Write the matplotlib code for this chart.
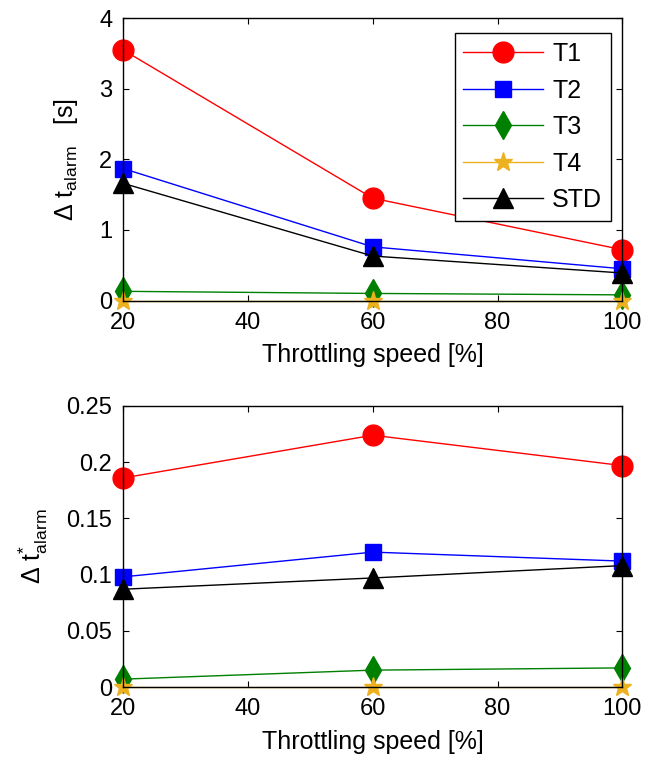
import matplotlib
matplotlib.use("Agg")
import matplotlib.pyplot as plt

plt.rcParams['font.family'] = ['Liberation Sans', 'DejaVu Sans']
plt.rcParams['mathtext.fontset'] = 'custom'
plt.rcParams['mathtext.rm'] = 'Liberation Sans'
plt.rcParams['mathtext.it'] = 'Liberation Sans'
plt.rcParams['mathtext.bf'] = 'Liberation Sans'

# ---- data ----
speed = [20, 60, 100]
series_names = ['T1', 'T2', 'T3', 'T4', 'STD']

dt_T1 = [3.55, 1.45, 0.72]
dt_T2 = [1.87, 0.76, 0.45]
dt_T3 = [0.13, 0.10, 0.08]
dt_T4 = [0.0, 0.0, 0.0]
dt_STD = [1.66, 0.63, 0.39]

dtn_T1 = [0.186, 0.224, 0.197]
dtn_T2 = [0.098, 0.120, 0.112]
dtn_T3 = [0.007, 0.015, 0.017]
dtn_T4 = [0.0, 0.0, 0.0]
dtn_STD = [0.087, 0.097, 0.108]

x_ticks = [20, 40, 60, 80, 100]
top_yticks = [0, 1, 2, 3, 4]
bot_yticks = [0, 0.05, 0.1, 0.15, 0.2, 0.25]
bot_yticklabels = ['0', '0.05', '0.1', '0.15', '0.2', '0.25']

colors = ['#ff0000', '#0000ff', '#008000', '#edb120', '#000000']
markers = ['o', 's', 'd', '*', '^']
msizes = [15, 12, 14, 14, 14]

W, H = 665, 759
fig = plt.figure(figsize=(W / 100, H / 100), dpi=100)

def px_axes(left, top, right, bottom):
    return fig.add_axes([left / W, 1 - bottom / H, (right - left) / W, (bottom - top) / H])

ax1 = px_axes(123.3, 18.3, 622.3, 300.5)
ax2 = px_axes(123.3, 406, 622.3, 687)

top_data = [dt_T1, dt_T2, dt_T3, dt_T4, dt_STD]
bot_data = [dtn_T1, dtn_T2, dtn_T3, dtn_T4, dtn_STD]

for ax, data in ((ax1, top_data), (ax2, bot_data)):
    for name, y, c, m, ms in zip(series_names, data, colors, markers, msizes):
        ax.plot(speed, y, color=c, marker=m, markersize=ms, markerfacecolor=c,
                markeredgecolor=c, linewidth=1.0, label=name, clip_on=False, zorder=3)
    ax.set_xlim(20, 100)
    ax.set_xticks(x_ticks)
    ax.tick_params(direction='in', length=4, width=0.8, labelsize=17, pad=8,
                   top=True, right=True)
    for s in ax.spines.values():
        s.set_linewidth(1.0)
        s.set_zorder(4)
    ax.set_xlabel('Throttling speed [%]', fontsize=18, labelpad=7)

ax1.set_ylim(0, 4)
ax1.set_yticks(top_yticks)
ax1.set_ylabel('Δ t$_{\\mathrm{alarm}}$   [s]', fontsize=18, labelpad=14)

ax2.set_ylim(0, 0.25)
ax2.set_yticks(bot_yticks)
ax2.set_yticklabels(bot_yticklabels)
ax2.set_ylabel('Δ t$^{*}_{\\mathrm{alarm}}$', fontsize=18, labelpad=12)

leg = ax1.legend(loc='upper right', bbox_to_anchor=(0.977, 0.947), borderaxespad=0,
                 fontsize=18, handlelength=3.2, handletextpad=0.35, labelspacing=0.5,
                 borderpad=0.35, fancybox=False, framealpha=1, edgecolor='black')
leg.get_frame().set_linewidth(1.0)

fig.savefig('out.png', dpi=100)
